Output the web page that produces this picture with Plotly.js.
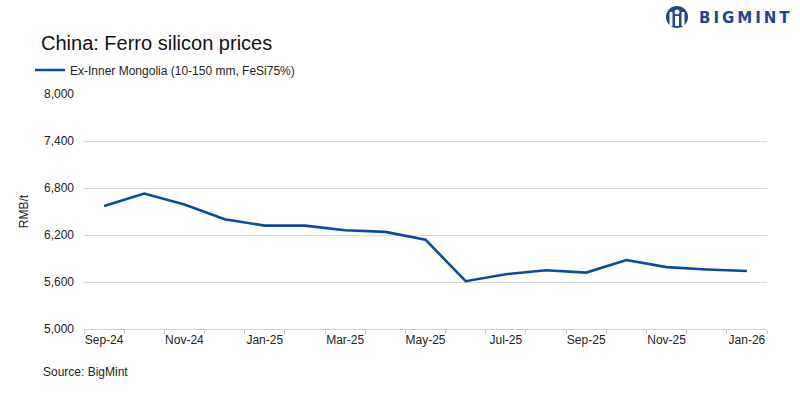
<!DOCTYPE html>
<html><head><meta charset="utf-8">
<script src="https://cdn.plot.ly/plotly-3.0.1.min.js"></script>
<style>html,body{margin:0;padding:0;background:#fff}#c{width:800px;height:399px}</style>
</head><body><div id="c"></div>
<script>
const months = ["Sep-24","Oct-24","Nov-24","Dec-24","Jan-25","Feb-25","Mar-25","Apr-25","May-25","Jun-25","Jul-25","Aug-25","Sep-25","Oct-25","Nov-25","Dec-25","Jan-26"];
const prices = [6570,6730,6590,6400,6320,6320,6260,6240,6140,5610,5700,5750,5720,5880,5790,5760,5740];
const seriesName = "Ex-Inner Mongolia (10-150 mm, FeSi75%)";
const yTicks = [5000,5600,6200,6800,7400,8000];
const xTickText = months.map((m,i)=> i%2===0 ? m : "");

const W=800,H=399,L=84,R=33,T=94,B=70;
const pw=W-L-R, ph=H-T-B;
const px=x=>(x-L)/pw, py=y=>(H-B-y)/ph;

const trace = {
  x: months, y: prices, type: "scatter", mode: "lines", name: seriesName,
  line: {color: "#0b4aa2", width: 2.6}
};
const layout = {
  width: W, height: H,
  margin: {l: L, r: R, t: T, b: B},
  paper_bgcolor: "#fff", plot_bgcolor: "#fff",
  font: {family: "Liberation Sans, Arial, sans-serif", color: "#222", size: 12},
  title: {text: "China: Ferro silicon prices", x: 41/W, xanchor: "left", xref: "container",
          y: 1-43/H, yanchor: "middle", yref: "container",
          font: {family: "Liberation Sans, Arial, sans-serif", size: 20, color: "#111"}},
  showlegend: true,
  legend: {orientation: "h", xref: "container", yref: "container", x: 30/W, y: 1-70/H,
           xanchor: "left", yanchor: "middle", font: {size: 12, color: "#222"},
           bgcolor: "rgba(0,0,0,0)"},
  xaxis: {type: "category", range: [-0.5, 16.5], tickvals: months, ticktext: xTickText,
          tickangle: 0, tickson: "boundaries", ticks: "outside", ticklen: 4, tickcolor: "#c8c8c8",
          showline: true, linecolor: "#d0d0d0", linewidth: 1, showgrid: false,
          tickfont: {family: "Liberation Sans, Arial, sans-serif", size: 12, color: "#222"},
          fixedrange: true},
  yaxis: {range: [5000, 8000], tickvals: yTicks, tickformat: ",d", showgrid: true,
          gridcolor: "#d9d9d9", gridwidth: 1, zeroline: false, showline: false,
          ticks: "", ticklabelstandoff: 9, tickfont: {size: 12, color: "#222"},
          title: {text: "RMB/t", standoff: 12, font: {size: 12, color: "#222"}},
          fixedrange: true},
  shapes: [
    {type: "circle", xref: "paper", yref: "paper", xsizemode: "pixel", ysizemode: "pixel",
     xanchor: px(677), yanchor: py(17), x0: -11, x1: 11, y0: -11, y1: 11,
     fillcolor: "#1f4596", line: {width: 0}},
    {type: "circle", xref: "paper", yref: "paper", xsizemode: "pixel", ysizemode: "pixel",
     xanchor: px(677), yanchor: py(12), x0: -2.5, x1: 2.5, y0: -2.5, y1: 2.5,
     fillcolor: "#fff", line: {width: 0}},
    {type: "rect", xref: "paper", yref: "paper", xsizemode: "pixel", ysizemode: "pixel",
     xanchor: px(677), yanchor: py(20), x0: -2, x1: 2, y0: -6, y1: 4,
     fillcolor: "#fff", line: {width: 0}},
    {type: "rect", xref: "paper", yref: "paper", xsizemode: "pixel", ysizemode: "pixel",
     xanchor: px(671), yanchor: py(18), x0: -1.5, x1: 1.5, y0: -8, y1: 6,
     fillcolor: "#fff", line: {width: 0}},
    {type: "rect", xref: "paper", yref: "paper", xsizemode: "pixel", ysizemode: "pixel",
     xanchor: px(683), yanchor: py(18), x0: -1.5, x1: 1.5, y0: -8, y1: 6,
     fillcolor: "#fff", line: {width: 0}}
  ],
  annotations: [
    {text: "B\u2009I\u2009G\u2009M\u2009I\u2009N\u2009T", xref: "paper", yref: "paper",
     x: px(697), y: py(18), xanchor: "left", yanchor: "middle", showarrow: false,
     font: {family: "DejaVu Sans, sans-serif", size: 15, color: "#1f4596", weight: 700}},
    {text: "Source: BigMint", xref: "paper", yref: "paper", x: px(41), y: py(372),
     xanchor: "left", yanchor: "middle", showarrow: false,
     font: {family: "Liberation Sans, Arial, sans-serif", size: 12, color: "#222"}}
  ]
};
Plotly.newPlot("c", [trace], layout, {staticPlot: true, displayModeBar: false});
</script></body></html>
